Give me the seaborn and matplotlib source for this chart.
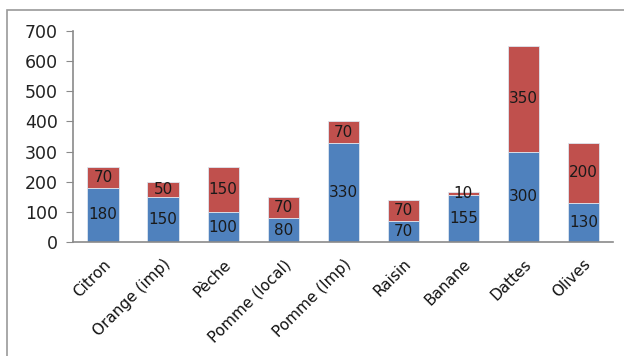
import pandas as pd
import matplotlib.pyplot as plt
import seaborn as sns
from matplotlib.patches import Rectangle

# Données
fruits = ['Citron', 'Orange (imp)', 'Pèche', 'Pomme (local)', 'Pomme (Imp)',
          'Raisin', 'Banane', 'Dattes', 'Olives']
bas = [180, 150, 100, 80, 330, 70, 155, 300, 130]
haut = [70, 50, 150, 70, 70, 70, 10, 350, 200]

df = pd.DataFrame({'Fruit': fruits, 'Bas': bas, 'Haut': haut})

sns.set_style('white')
plt.rcParams['font.family'] = ['DejaVu Sans']

fig = plt.figure(figsize=(6.24, 3.56), dpi=100)
ax = fig.add_axes([0.117, 0.32, 0.866, 0.593])

# cadre autour du graphique
fig.patches.append(Rectangle((7 / 624, -0.1), 1.2, 1 - 10 / 356 + 0.1, transform=fig.transFigure,
                             fill=False, edgecolor='#9a9a9a', linewidth=1.2))

sns.barplot(data=df, x='Fruit', y='Bas', color='#4F81BD', saturation=1, width=0.52, ax=ax)
sns.barplot(data=df, x='Fruit', y='Haut', bottom=df['Bas'], color='#C0504D', saturation=1,
            width=0.52, ax=ax)

for c in ax.containers:
    for b in c:
        b.set_edgecolor('#dde6f0')
        b.set_linewidth(0.6)
    ax.bar_label(c, label_type='center', fontsize=11, color='#1a1a1a')

ax.set_ylim(0, 700)
ax.set_yticks(range(0, 701, 100))
ax.set_xlim(-0.5, len(fruits) - 0.5)
ax.set_xlabel('')
ax.set_ylabel('')
ax.tick_params(axis='y', left=True, length=5, color='#8a8a8a', labelsize=12.5, pad=6,
               labelcolor='#222222')
ax.tick_params(axis='x', bottom=False, labelsize=11, labelcolor='#111111', pad=7)
plt.setp(ax.get_xticklabels(), rotation=45, ha='right', rotation_mode='anchor')
for s in ['top', 'right']:
    ax.spines[s].set_visible(False)
for s in ['left', 'bottom']:
    ax.spines[s].set_color('#8a8a8a')
    ax.spines[s].set_linewidth(1.2)

fig.savefig('out.png', dpi=100)
